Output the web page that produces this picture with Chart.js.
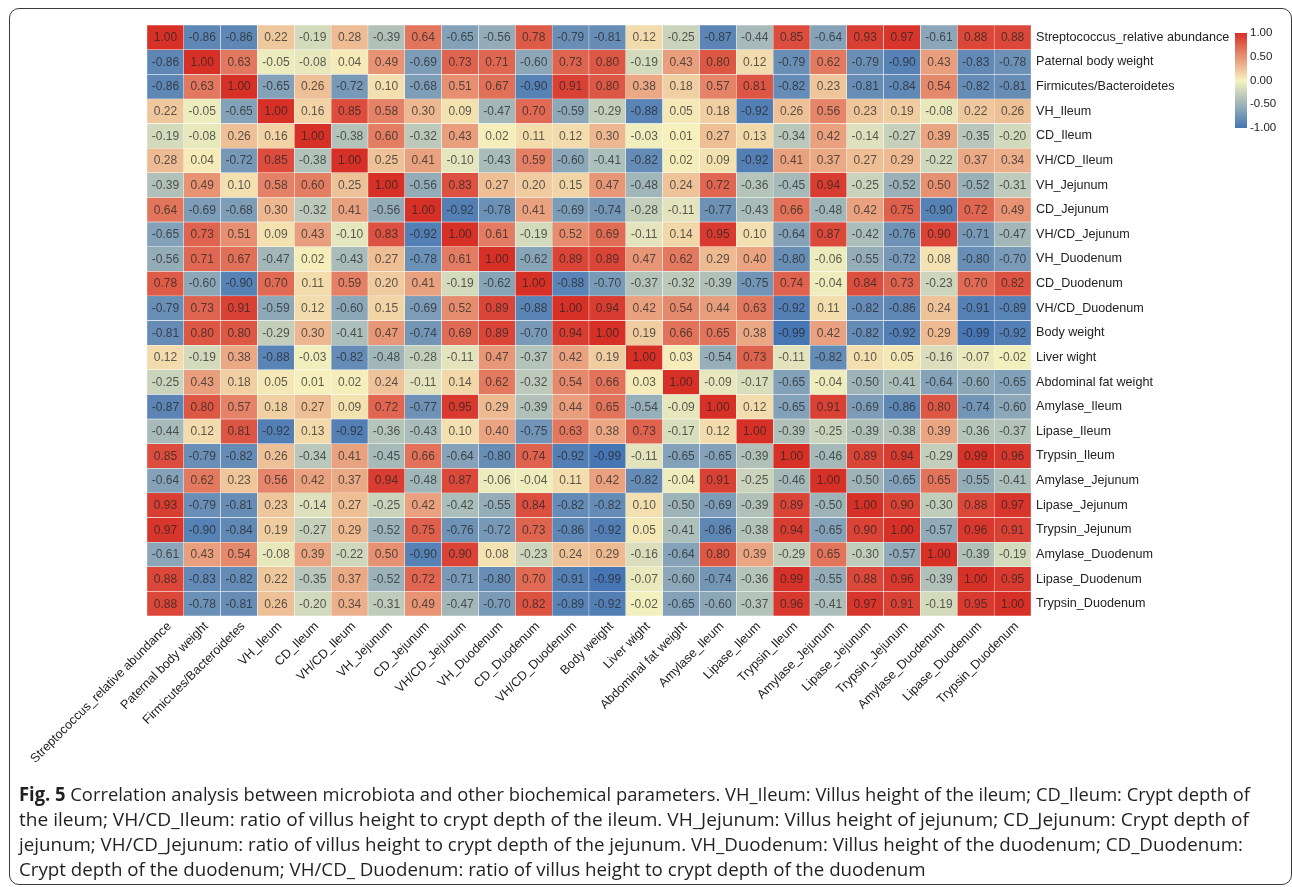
<!DOCTYPE html>
<html>
<head>
<meta charset="utf-8">
<script src="https://cdn.jsdelivr.net/npm/chart.js@4.4.1/dist/chart.umd.min.js"></script>
<style>
  html, body { margin: 0; padding: 0; background: #fff; }
  #wrap { position: relative; width: 1292px; height: 887px; overflow: hidden; }
  #chart { position: absolute; left: 0; top: 0; }
  #frame { position: absolute; left: 9px; top: 8px; width: 1283px; height: 877px; border: 1.5px solid #3a3a3a; border-radius: 10px; box-sizing: border-box; pointer-events: none; }
  .cap { position: absolute; left: 19px; white-space: nowrap; font-family: "Open Sans", "Noto Sans", sans-serif; font-size: 19px; line-height: 25px; color: #231f20; transform-origin: 0 50%; }
  .cap b { font-weight: 700; }
</style>
</head>
<body>
<div id="wrap">
  <canvas id="chart" width="1292" height="887"></canvas>
  <div id="frame"></div>
  <div class="cap" id="c1" style="top:782px"><b>Fig. 5</b> Correlation analysis between microbiota and other biochemical parameters. VH_Ileum: Villus height of the ileum; CD_Ileum: Crypt depth of</div>
  <div class="cap" id="c2" style="top:807px">the ileum; VH/CD_Ileum: ratio of villus height to crypt depth of the ileum. VH_Jejunum: Villus height of jejunum; CD_Jejunum: Crypt depth of</div>
  <div class="cap" id="c3" style="top:832px">jejunum; VH/CD_Jejunum: ratio of villus height to crypt depth of the jejunum. VH_Duodenum: Villus height of the duodenum; CD_Duodenum:</div>
  <div class="cap" id="c4" style="top:857px">Crypt depth of the duodenum; VH/CD_ Duodenum: ratio of villus height to crypt depth of the duodenum</div>
</div>
<script>
// ---------------- data ----------------
const variables = [
  'Streptococcus_relative abundance', 'Paternal body weight', 'Firmicutes/Bacteroidetes',
  'VH_Ileum', 'CD_Ileum', 'VH/CD_Ileum', 'VH_Jejunum', 'CD_Jejunum', 'VH/CD_Jejunum',
  'VH_Duodenum', 'CD_Duodenum', 'VH/CD_Duodenum', 'Body weight', 'Liver wight',
  'Abdominal fat weight', 'Amylase_Ileum', 'Lipase_Ileum', 'Trypsin_Ileum',
  'Amylase_Jejunum', 'Lipase_Jejunum', 'Trypsin_Jejunum', 'Amylase_Duodenum',
  'Lipase_Duodenum', 'Trypsin_Duodenum'
];
const rowLabels = variables;
const colLabels = variables;

const corr = [
  [ 1.00,-0.86,-0.86, 0.22,-0.19, 0.28,-0.39, 0.64,-0.65,-0.56, 0.78,-0.79,-0.81, 0.12,-0.25,-0.87,-0.44, 0.85,-0.64, 0.93, 0.97,-0.61, 0.88, 0.88],
  [-0.86, 1.00, 0.63,-0.05,-0.08, 0.04, 0.49,-0.69, 0.73, 0.71,-0.60, 0.73, 0.80,-0.19, 0.43, 0.80, 0.12,-0.79, 0.62,-0.79,-0.90, 0.43,-0.83,-0.78],
  [-0.86, 0.63, 1.00,-0.65, 0.26,-0.72, 0.10,-0.68, 0.51, 0.67,-0.90, 0.91, 0.80, 0.38, 0.18, 0.57, 0.81,-0.82, 0.23,-0.81,-0.84, 0.54,-0.82,-0.81],
  [ 0.22,-0.05,-0.65, 1.00, 0.16, 0.85, 0.58, 0.30, 0.09,-0.47, 0.70,-0.59,-0.29,-0.88, 0.05, 0.18,-0.92, 0.26, 0.56, 0.23, 0.19,-0.08, 0.22, 0.26],
  [-0.19,-0.08, 0.26, 0.16, 1.00,-0.38, 0.60,-0.32, 0.43, 0.02, 0.11, 0.12, 0.30,-0.03, 0.01, 0.27, 0.13,-0.34, 0.42,-0.14,-0.27, 0.39,-0.35,-0.20],
  [ 0.28, 0.04,-0.72, 0.85,-0.38, 1.00, 0.25, 0.41,-0.10,-0.43, 0.59,-0.60,-0.41,-0.82, 0.02, 0.09,-0.92, 0.41, 0.37, 0.27, 0.29,-0.22, 0.37, 0.34],
  [-0.39, 0.49, 0.10, 0.58, 0.60, 0.25, 1.00,-0.56, 0.83, 0.27, 0.20, 0.15, 0.47,-0.48, 0.24, 0.72,-0.36,-0.45, 0.94,-0.25,-0.52, 0.50,-0.52,-0.31],
  [ 0.64,-0.69,-0.68, 0.30,-0.32, 0.41,-0.56, 1.00,-0.92,-0.78, 0.41,-0.69,-0.74,-0.28,-0.11,-0.77,-0.43, 0.66,-0.48, 0.42, 0.75,-0.90, 0.72, 0.49],
  [-0.65, 0.73, 0.51, 0.09, 0.43,-0.10, 0.83,-0.92, 1.00, 0.61,-0.19, 0.52, 0.69,-0.11, 0.14, 0.95, 0.10,-0.64, 0.87,-0.42,-0.76, 0.90,-0.71,-0.47],
  [-0.56, 0.71, 0.67,-0.47, 0.02,-0.43, 0.27,-0.78, 0.61, 1.00,-0.62, 0.89, 0.89, 0.47, 0.62, 0.29, 0.40,-0.80,-0.06,-0.55,-0.72, 0.08,-0.80,-0.70],
  [ 0.78,-0.60,-0.90, 0.70, 0.11, 0.59, 0.20, 0.41,-0.19,-0.62, 1.00,-0.88,-0.70,-0.37,-0.32,-0.39,-0.75, 0.74,-0.04, 0.84, 0.73,-0.23, 0.70, 0.82],
  [-0.79, 0.73, 0.91,-0.59, 0.12,-0.60, 0.15,-0.69, 0.52, 0.89,-0.88, 1.00, 0.94, 0.42, 0.54, 0.44, 0.63,-0.92, 0.11,-0.82,-0.86, 0.24,-0.91,-0.89],
  [-0.81, 0.80, 0.80,-0.29, 0.30,-0.41, 0.47,-0.74, 0.69, 0.89,-0.70, 0.94, 1.00, 0.19, 0.66, 0.65, 0.38,-0.99, 0.42,-0.82,-0.92, 0.29,-0.99,-0.92],
  [ 0.12,-0.19, 0.38,-0.88,-0.03,-0.82,-0.48,-0.28,-0.11, 0.47,-0.37, 0.42, 0.19, 1.00, 0.03,-0.54, 0.73,-0.11,-0.82, 0.10, 0.05,-0.16,-0.07,-0.02],
  [-0.25, 0.43, 0.18, 0.05, 0.01, 0.02, 0.24,-0.11, 0.14, 0.62,-0.32, 0.54, 0.66, 0.03, 1.00,-0.09,-0.17,-0.65,-0.04,-0.50,-0.41,-0.64,-0.60,-0.65],
  [-0.87, 0.80, 0.57, 0.18, 0.27, 0.09, 0.72,-0.77, 0.95, 0.29,-0.39, 0.44, 0.65,-0.54,-0.09, 1.00, 0.12,-0.65, 0.91,-0.69,-0.86, 0.80,-0.74,-0.60],
  [-0.44, 0.12, 0.81,-0.92, 0.13,-0.92,-0.36,-0.43, 0.10, 0.40,-0.75, 0.63, 0.38, 0.73,-0.17, 0.12, 1.00,-0.39,-0.25,-0.39,-0.38, 0.39,-0.36,-0.37],
  [ 0.85,-0.79,-0.82, 0.26,-0.34, 0.41,-0.45, 0.66,-0.64,-0.80, 0.74,-0.92,-0.99,-0.11,-0.65,-0.65,-0.39, 1.00,-0.46, 0.89, 0.94,-0.29, 0.99, 0.96],
  [-0.64, 0.62, 0.23, 0.56, 0.42, 0.37, 0.94,-0.48, 0.87,-0.06,-0.04, 0.11, 0.42,-0.82,-0.04, 0.91,-0.25,-0.46, 1.00,-0.50,-0.65, 0.65,-0.55,-0.41],
  [ 0.93,-0.79,-0.81, 0.23,-0.14, 0.27,-0.25, 0.42,-0.42,-0.55, 0.84,-0.82,-0.82, 0.10,-0.50,-0.69,-0.39, 0.89,-0.50, 1.00, 0.90,-0.30, 0.88, 0.97],
  [ 0.97,-0.90,-0.84, 0.19,-0.27, 0.29,-0.52, 0.75,-0.76,-0.72, 0.73,-0.86,-0.92, 0.05,-0.41,-0.86,-0.38, 0.94,-0.65, 0.90, 1.00,-0.57, 0.96, 0.91],
  [-0.61, 0.43, 0.54,-0.08, 0.39,-0.22, 0.50,-0.90, 0.90, 0.08,-0.23, 0.24, 0.29,-0.16,-0.64, 0.80, 0.39,-0.29, 0.65,-0.30,-0.57, 1.00,-0.39,-0.19],
  [ 0.88,-0.83,-0.82, 0.22,-0.35, 0.37,-0.52, 0.72,-0.71,-0.80, 0.70,-0.91,-0.99,-0.07,-0.60,-0.74,-0.36, 0.99,-0.55, 0.88, 0.96,-0.39, 1.00, 0.95],
  [ 0.88,-0.78,-0.81, 0.26,-0.20, 0.34,-0.31, 0.49,-0.47,-0.70, 0.82,-0.89,-0.92,-0.02,-0.65,-0.60,-0.37, 0.96,-0.41, 0.97, 0.91,-0.19, 0.95, 1.00]
];

const legendTicks = [1.00, 0.50, 0.00, -0.50, -1.00];

// colour scale: -1 -> blue, 0 -> pale yellow, +1 -> red
const scaleNeg = [69, 117, 180];
const scaleMid = [246, 242, 190];
const scalePos = [215, 48, 39];

function colorFor(v) {
  const t = Math.max(-1, Math.min(1, v));
  const b = t < 0 ? scaleNeg : scalePos;
  const f = Math.abs(t);
  const c = scaleMid.map((m, i) => Math.round(m + (b[i] - m) * f));
  return `rgb(${c[0]},${c[1]},${c[2]})`;
}

// ---------------- chart ----------------
const CELL_FONT = '12px "Liberation Sans", Arial, sans-serif';
const LABEL_FONT = { family: '"Liberation Sans", Arial, sans-serif', size: 12.6 };

const datasets = corr.map((row, r) => ({
  label: rowLabels[r],
  data: colLabels.map(() => [r, r + 1]),
  backgroundColor: row.map(colorFor),
  borderColor: 'rgba(255,255,255,0.85)',
  borderWidth: 0.5,
  borderSkipped: false,
  grouped: false,
  barPercentage: 1,
  categoryPercentage: 1,
  values: row
}));

const cellText = {
  id: 'cellText',
  afterDatasetsDraw(chart) {
    const ctx = chart.ctx;
    ctx.save();
    ctx.font = CELL_FONT;
    ctx.fillStyle = 'rgba(35,35,35,0.72)';
    ctx.textAlign = 'center';
    ctx.textBaseline = 'middle';
    chart.data.datasets.forEach((ds, di) => {
      const meta = chart.getDatasetMeta(di);
      meta.data.forEach((el, i) => {
        const v = ds.values[i];
        ctx.fillText(v.toFixed(2), el.x, (el.y + el.base) / 2 + 0.5);
      });
    });
    ctx.restore();
  }
};

const colorLegend = {
  id: 'colorLegend',
  afterDraw(chart) {
    const ctx = chart.ctx;
    const x0 = 1235, w = 12, yTop = 33, yBot = 128;
    const grad = ctx.createLinearGradient(0, yTop, 0, yBot);
    for (let k = 0; k <= 20; k++) {
      const v = 1 - k / 10;
      grad.addColorStop(k / 20, colorFor(v));
    }
    ctx.save();
    ctx.fillStyle = grad;
    ctx.fillRect(x0, yTop, w, yBot - yTop);
    ctx.font = '11.5px "Liberation Sans", Arial, sans-serif';
    ctx.fillStyle = '#222';
    ctx.textAlign = 'left';
    ctx.textBaseline = 'middle';
    legendTicks.forEach(v => {
      const y = yTop + (1 - v) / 2 * (yBot - yTop);
      ctx.fillText(v.toFixed(2), x0 + w + 3, y);
    });
    ctx.restore();
  }
};

new Chart(document.getElementById('chart'), {
  type: 'bar',
  data: { labels: colLabels, datasets },
  options: {
    responsive: false,
    animation: false,
    layout: { padding: { left: 147, top: 25, right: 0, bottom: 0 } },
    plugins: { legend: { display: false }, tooltip: { enabled: false } },
    scales: {
      x: {
        type: 'category',
        offset: true,
        grid: { display: false, drawTicks: false },
        border: { display: false },
        ticks: {
          autoSkip: false, minRotation: 45, maxRotation: 45,
          padding: 3, labelOffset: 4,
          color: '#222', font: LABEL_FONT
        },
        afterFit(s) { s.height = 271; s.paddingLeft = 0; s.paddingRight = 0; }
      },
      y: {
        type: 'linear', min: 0, max: 24, reverse: true, display: false
      },
      y2: {
        type: 'category',
        position: 'right',
        labels: rowLabels,
        offset: true,
        grid: { display: false, drawTicks: false },
        border: { display: false },
        ticks: { autoSkip: false, padding: 5, color: '#222', font: LABEL_FONT },
        afterFit(s) { s.width = 261; s.paddingTop = 0; s.paddingBottom = 0; }
      }
    }
  },
  plugins: [cellText, colorLegend]
});

// fit caption lines to the reference line lengths
const capTargets = { c1: 1231, c2: 1230, c3: 1224 };
let scales = [];
Object.keys(capTargets).forEach(id => {
  const el = document.getElementById(id);
  const s = capTargets[id] / el.getBoundingClientRect().width;
  scales.push(s);
  el.style.transform = `scaleX(${s})`;
});
const avg = scales.reduce((a, b) => a + b, 0) / scales.length;
document.getElementById('c4').style.transform = `scaleX(${avg})`;
</script>
</body>
</html>
